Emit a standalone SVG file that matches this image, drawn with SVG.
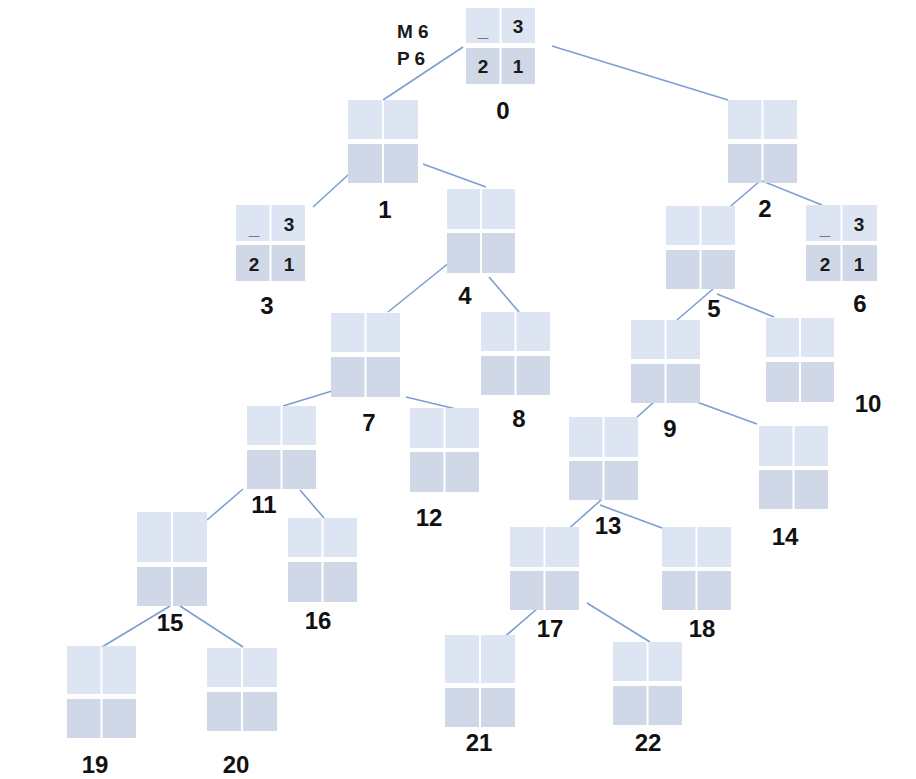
<svg xmlns="http://www.w3.org/2000/svg" width="916" height="779" viewBox="0 0 916 779">
<style>
.t{fill:#dce5f1}
.b{fill:#d0d7e6}
.edge{stroke:#7b9fd0;stroke-width:1.6;fill:none}
.lbl{font-family:"Liberation Sans",Arial,sans-serif;font-weight:bold;font-size:24px;fill:#111;text-anchor:middle}
.c{font-family:"Liberation Sans",Arial,sans-serif;font-weight:bold;font-size:19px;fill:#1a1a1a;text-anchor:middle}
.m{font-family:"Liberation Sans",Arial,sans-serif;font-weight:bold;font-size:19px;fill:#1a1a1a}
</style>
<rect width="916" height="779" fill="#fff"/>
<g id="connectors">
<line class="edge" x1="463" y1="47" x2="383" y2="100"/>
<line class="edge" x1="552" y1="46" x2="728" y2="100"/>
<line class="edge" x1="348" y1="175" x2="313" y2="207"/>
<line class="edge" x1="423" y1="164" x2="486" y2="187"/>
<line class="edge" x1="455" y1="258" x2="388" y2="312"/>
<line class="edge" x1="489" y1="277" x2="519" y2="312"/>
<line class="edge" x1="760" y1="181" x2="725" y2="211"/>
<line class="edge" x1="762" y1="181" x2="822" y2="205"/>
<line class="edge" x1="713" y1="289" x2="677" y2="320"/>
<line class="edge" x1="717" y1="294" x2="774" y2="317"/>
<line class="edge" x1="663" y1="394" x2="627" y2="426"/>
<line class="edge" x1="694" y1="401" x2="757" y2="424"/>
<line class="edge" x1="332" y1="391" x2="283" y2="406"/>
<line class="edge" x1="406" y1="397" x2="456" y2="409"/>
<line class="edge" x1="243" y1="489" x2="207" y2="520"/>
<line class="edge" x1="300" y1="490" x2="324" y2="518"/>
<line class="edge" x1="601" y1="500" x2="565" y2="532"/>
<line class="edge" x1="600" y1="505" x2="662" y2="528"/>
<line class="edge" x1="538" y1="608" x2="502" y2="639"/>
<line class="edge" x1="587" y1="603" x2="650" y2="642"/>
<line class="edge" x1="170" y1="606" x2="102" y2="647"/>
<line class="edge" x1="180" y1="606" x2="243" y2="647"/>
</g>
<g id="info">
<text class="m" x="397" y="38">M 6</text>
<text class="m" x="397" y="65">P 6</text>
</g>
<g id="node0">
<rect class="t" x="466" y="8" width="33.5" height="35"/><rect class="t" x="501.5" y="8" width="33.5" height="35"/>
<rect class="b" x="466" y="48" width="33.5" height="36"/><rect class="b" x="501.5" y="48" width="33.5" height="36"/>
<text class="c" x="483" y="37">_</text><text class="c" x="518" y="33">3</text>
<text class="c" x="483" y="73">2</text><text class="c" x="518" y="73">1</text>
<text class="lbl" x="503" y="119">0</text>
</g>
<g id="node1">
<rect class="t" x="348" y="100" width="34" height="39"/><rect class="t" x="384" y="100" width="34" height="39"/>
<rect class="b" x="348" y="144" width="34" height="39"/><rect class="b" x="384" y="144" width="34" height="39"/>
<text class="lbl" x="385" y="218">1</text>
</g>
<g id="node2">
<rect class="t" x="728" y="100" width="33.5" height="39"/><rect class="t" x="763.5" y="100" width="33.5" height="39"/>
<rect class="b" x="728" y="144" width="33.5" height="39"/><rect class="b" x="763.5" y="144" width="33.5" height="39"/>
<text class="lbl" x="765" y="217">2</text>
</g>
<g id="node3">
<rect class="t" x="236" y="205" width="33.5" height="36"/><rect class="t" x="271.5" y="205" width="33.5" height="36"/>
<rect class="b" x="236" y="245" width="33.5" height="36"/><rect class="b" x="271.5" y="245" width="33.5" height="36"/>
<text class="c" x="254" y="235">_</text><text class="c" x="289" y="231">3</text>
<text class="c" x="254" y="271">2</text><text class="c" x="289" y="271">1</text>
<text class="lbl" x="267" y="314">3</text>
</g>
<g id="node4">
<rect class="t" x="447" y="189" width="33" height="40"/><rect class="t" x="482" y="189" width="33" height="40"/>
<rect class="b" x="447" y="233" width="33" height="40"/><rect class="b" x="482" y="233" width="33" height="40"/>
<text class="lbl" x="465" y="304">4</text>
</g>
<g id="node5">
<rect class="t" x="666" y="206" width="33.5" height="39"/><rect class="t" x="701.5" y="206" width="33.5" height="39"/>
<rect class="b" x="666" y="250" width="33.5" height="39"/><rect class="b" x="701.5" y="250" width="33.5" height="39"/>
<text class="lbl" x="714" y="317">5</text>
</g>
<g id="node6">
<rect class="t" x="806" y="205" width="34.5" height="36"/><rect class="t" x="842.5" y="205" width="34.5" height="36"/>
<rect class="b" x="806" y="245" width="34.5" height="36"/><rect class="b" x="842.5" y="245" width="34.5" height="36"/>
<text class="c" x="825" y="235">_</text><text class="c" x="859" y="231">3</text>
<text class="c" x="825" y="271">2</text><text class="c" x="859" y="271">1</text>
<text class="lbl" x="860" y="312">6</text>
</g>
<g id="node7">
<rect class="t" x="331" y="313" width="33.5" height="39"/><rect class="t" x="366.5" y="313" width="33.5" height="39"/>
<rect class="b" x="331" y="357" width="33.5" height="40"/><rect class="b" x="366.5" y="357" width="33.5" height="40"/>
<text class="lbl" x="369" y="431">7</text>
</g>
<g id="node8">
<rect class="t" x="481" y="312" width="33.5" height="39"/><rect class="t" x="516.5" y="312" width="33.5" height="39"/>
<rect class="b" x="481" y="356" width="33.5" height="39"/><rect class="b" x="516.5" y="356" width="33.5" height="39"/>
<text class="lbl" x="519" y="427">8</text>
</g>
<g id="node9">
<rect class="t" x="631" y="320" width="33.5" height="39"/><rect class="t" x="666.5" y="320" width="33.5" height="39"/>
<rect class="b" x="631" y="364" width="33.5" height="39"/><rect class="b" x="666.5" y="364" width="33.5" height="39"/>
<text class="lbl" x="670" y="437">9</text>
</g>
<g id="node10">
<rect class="t" x="766" y="318" width="33" height="39"/><rect class="t" x="801" y="318" width="33" height="39"/>
<rect class="b" x="766" y="362" width="33" height="40"/><rect class="b" x="801" y="362" width="33" height="40"/>
<text class="lbl" x="868" y="412">10</text>
</g>
<g id="node11">
<rect class="t" x="247" y="406" width="33.5" height="39"/><rect class="t" x="282.5" y="406" width="33.5" height="39"/>
<rect class="b" x="247" y="450" width="33.5" height="39"/><rect class="b" x="282.5" y="450" width="33.5" height="39"/>
<text class="lbl" x="264" y="513">11</text>
</g>
<g id="node12">
<rect class="t" x="410" y="408" width="33.5" height="40"/><rect class="t" x="445.5" y="408" width="33.5" height="40"/>
<rect class="b" x="410" y="452" width="33.5" height="40"/><rect class="b" x="445.5" y="452" width="33.5" height="40"/>
<text class="lbl" x="429" y="526">12</text>
</g>
<g id="node13">
<rect class="t" x="569" y="417" width="33.5" height="40"/><rect class="t" x="604.5" y="417" width="33.5" height="40"/>
<rect class="b" x="569" y="461" width="33.5" height="39"/><rect class="b" x="604.5" y="461" width="33.5" height="39"/>
<text class="lbl" x="608" y="534">13</text>
</g>
<g id="node14">
<rect class="t" x="759" y="426" width="33.5" height="40"/><rect class="t" x="794.5" y="426" width="33.5" height="40"/>
<rect class="b" x="759" y="470" width="33.5" height="39"/><rect class="b" x="794.5" y="470" width="33.5" height="39"/>
<text class="lbl" x="785" y="545">14</text>
</g>
<g id="node15">
<rect class="t" x="137" y="512" width="34" height="50"/><rect class="t" x="173" y="512" width="34" height="50"/>
<rect class="b" x="137" y="567" width="34" height="39"/><rect class="b" x="173" y="567" width="34" height="39"/>
<text class="lbl" x="170" y="631">15</text>
</g>
<g id="node16">
<rect class="t" x="288" y="518" width="33.5" height="39"/><rect class="t" x="323.5" y="518" width="33.5" height="39"/>
<rect class="b" x="288" y="562" width="33.5" height="40"/><rect class="b" x="323.5" y="562" width="33.5" height="40"/>
<text class="lbl" x="318" y="629">16</text>
</g>
<g id="node17">
<rect class="t" x="510" y="527" width="33.5" height="40"/><rect class="t" x="545.5" y="527" width="33.5" height="40"/>
<rect class="b" x="510" y="571" width="33.5" height="39"/><rect class="b" x="545.5" y="571" width="33.5" height="39"/>
<text class="lbl" x="550" y="637">17</text>
</g>
<g id="node18">
<rect class="t" x="662" y="527" width="33.5" height="40"/><rect class="t" x="697.5" y="527" width="33.5" height="40"/>
<rect class="b" x="662" y="571" width="33.5" height="39"/><rect class="b" x="697.5" y="571" width="33.5" height="39"/>
<text class="lbl" x="702" y="637">18</text>
</g>
<g id="node19">
<rect class="t" x="67" y="646" width="33.5" height="48"/><rect class="t" x="102.5" y="646" width="33.5" height="48"/>
<rect class="b" x="67" y="699" width="33.5" height="39"/><rect class="b" x="102.5" y="699" width="33.5" height="39"/>
<text class="lbl" x="95" y="773">19</text>
</g>
<g id="node20">
<rect class="t" x="207" y="648" width="34" height="39"/><rect class="t" x="243" y="648" width="34" height="39"/>
<rect class="b" x="207" y="692" width="34" height="39"/><rect class="b" x="243" y="692" width="34" height="39"/>
<text class="lbl" x="236" y="773">20</text>
</g>
<g id="node21">
<rect class="t" x="445" y="635" width="34" height="48"/><rect class="t" x="481" y="635" width="34" height="48"/>
<rect class="b" x="445" y="688" width="34" height="39"/><rect class="b" x="481" y="688" width="34" height="39"/>
<text class="lbl" x="479" y="751">21</text>
</g>
<g id="node22">
<rect class="t" x="613" y="642" width="33.5" height="39"/><rect class="t" x="648.5" y="642" width="33.5" height="39"/>
<rect class="b" x="613" y="686" width="33.5" height="39"/><rect class="b" x="648.5" y="686" width="33.5" height="39"/>
<text class="lbl" x="648" y="751">22</text>
</g>
</svg>
